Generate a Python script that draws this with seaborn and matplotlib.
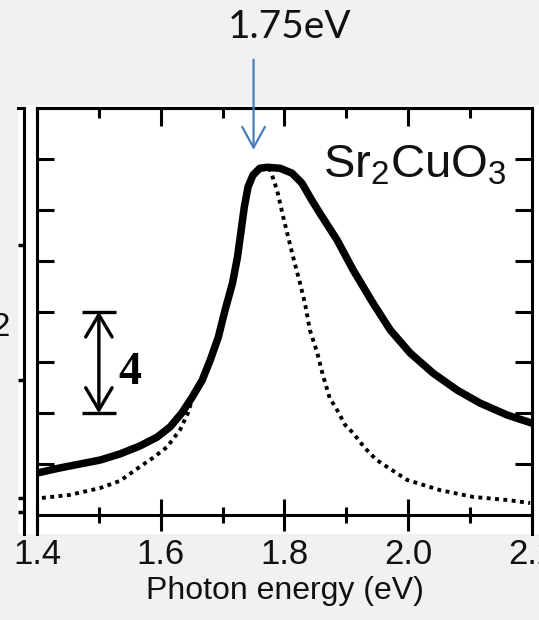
import numpy as np
import pandas as pd
import matplotlib
matplotlib.use("Agg")
import matplotlib.pyplot as plt
from matplotlib.patches import Rectangle
import seaborn as sns

# ---- data -------------------------------------------------------------
# measured epsilon_2 spectrum (thick solid line)
solid_energy = [1.400, 1.437, 1.502, 1.534, 1.566, 1.594, 1.615, 1.634, 1.651,
                1.667, 1.680, 1.693, 1.704, 1.716, 1.724, 1.730, 1.735, 1.741,
                1.749, 1.760, 1.772, 1.793, 1.812, 1.828, 1.844, 1.857, 1.885,
                1.911, 1.943, 1.971, 2.003, 2.040, 2.079, 2.116, 2.160, 2.200]
solid_eps2 = [1.65, 1.85, 2.16, 2.40, 2.71, 3.06, 3.46, 4.01, 4.64,
              5.30, 6.09, 6.99, 8.06, 9.12, 10.14, 11.20, 12.10, 12.89,
              13.36, 13.63, 13.67, 13.63, 13.44, 13.05, 12.38, 11.87, 10.81,
              9.63, 8.33, 7.27, 6.37, 5.58, 4.91, 4.40, 3.93, 3.61]

# single-peak fit (dotted line)
dotted_energy = [1.408, 1.453, 1.502, 1.534, 1.566, 1.587, 1.610, 1.631, 1.644,
                 1.651, 1.667, 1.680, 1.693, 1.704, 1.716, 1.724, 1.730, 1.735,
                 1.741, 1.749, 1.760, 1.772, 1.777, 1.788, 1.798, 1.806, 1.814,
                 1.825, 1.833, 1.841, 1.853, 1.862, 1.873, 1.885, 1.898, 1.911,
                 1.930, 1.949, 1.998, 2.051, 2.105, 2.160, 2.197]
dotted_eps2 = [0.67, 0.79, 1.06, 1.34, 1.89, 2.24, 2.67, 3.34, 4.01,
               4.56, 5.23, 6.01, 6.92, 7.98, 9.04, 10.06, 11.12, 12.02,
               12.81, 13.28, 13.56, 13.63, 13.56, 12.77, 11.71, 10.92, 10.14,
               9.12, 8.33, 7.27, 6.37, 5.50, 4.60, 4.13, 3.54, 3.22,
               2.63, 2.16, 1.38, 0.98, 0.71, 0.59, 0.47]

x_major = [1.4, 1.6, 1.8, 2.0, 2.2]
x_minor = [1.5, 1.7, 1.9, 2.1]
x_labels = ["1.4", "1.6", "1.8", "2.0", "2.2"]
y_ticks = [2, 4, 6, 8, 10, 12, 14]

peak_energy = 1.75          # eV, marked with the blue arrow
peak_label = "1.75eV"
scale_bar_x = 1.50
scale_bar_bottom = 4.0
scale_bar_length = 4        # units of epsilon_2
neighbor_ticks = [0.12, 0.67, 5.30, 10.61]

solid_df = pd.DataFrame({"energy": solid_energy, "eps2": solid_eps2})
dotted_df = pd.DataFrame({"energy": dotted_energy, "eps2": dotted_eps2})

# ---- style ------------------------------------------------------------
sns.set_theme(style="white")
plt.rcParams["font.family"] = ["Liberation Sans", "DejaVu Sans"]
plt.rcParams["mathtext.fontset"] = "custom"
plt.rcParams["mathtext.rm"] = "Liberation Sans"
plt.rcParams["mathtext.it"] = "Liberation Sans:italic"
plt.rcParams["mathtext.bf"] = "Liberation Sans:bold"
plt.rcParams["mathtext.default"] = "regular"

W, H = 539, 620
bg = "#f1f1f1"
fig = plt.figure(figsize=(W / 100, H / 100), dpi=100, facecolor=bg)

# white panel behind the plot
fig.patches.append(Rectangle((18 / W, 1 - 534 / H), 1 - 18 / W, (534 - 105) / H,
                             transform=fig.transFigure, facecolor="white",
                             edgecolor="none", zorder=-5))

# edge of the neighbouring panel on the left
axn = fig.add_axes([18 / W, 1 - 515 / H, 6 / W, 407 / H])
axn.set_facecolor("none")
axn.set_xlim(0, 1)
axn.set_ylim(0, 16)
for s in ("left", "bottom"):
    axn.spines[s].set_visible(False)
for s in ("top", "right"):
    axn.spines[s].set_linewidth(2.2)
    axn.spines[s].set_color("black")
axn.spines["right"].set_bounds(-0.75, 16)
axn.set_xticks([])
axn.yaxis.tick_right()
axn.set_yticks(neighbor_ticks)
axn.tick_params(axis="y", direction="in", length=4.5, width=2.5, color="black",
                labelright=False, labelleft=False, left=False, right=True)

# main panel
ax = fig.add_axes([37 / W, 1 - 515 / H, 495 / W, 407 / H])
ax.set_facecolor("white")

sns.lineplot(data=solid_df, x="energy", y="eps2", ax=ax, color="black",
             lw=5.4, estimator=None, sort=False, solid_capstyle="round",
             solid_joinstyle="round", zorder=4)
sns.lineplot(data=dotted_df, x="energy", y="eps2", ax=ax, color="black",
             lw=2.8, estimator=None, sort=False, zorder=3)
ax.lines[1].set_dashes((1.0, 1.15))

ax.set_xlim(1.4, 2.2)
ax.set_ylim(0, 16)

for s in ax.spines.values():
    s.set_linewidth(2.2)
    s.set_color("black")
ax.spines["left"].set_bounds(-0.75, 16)
ax.spines["right"].set_bounds(-0.75, 16)

ax.set_xticks(x_major)
ax.set_xticklabels(x_labels)
ax.set_xticks(x_minor, minor=True)
ax.tick_params(axis="x", which="major", direction="inout", length=23, width=2.2,
               color="black", bottom=True, top=False, pad=5, labelsize=25,
               labelcolor="#111111")
ax.tick_params(axis="x", which="minor", direction="inout", length=11, width=2.2,
               color="black", bottom=True, top=False)
ax.set_yticks(y_ticks)
ax.tick_params(axis="y", direction="in", length=12, width=2.2, color="black",
               left=True, right=True, labelleft=False, labelright=False)

top = ax.secondary_xaxis("top")
top.set_xticks(x_major)
top.set_xticks(x_minor, minor=True)
top.tick_params(axis="x", which="major", direction="in", length=13, width=2.2,
                color="black", labeltop=False)
top.tick_params(axis="x", which="minor", direction="in", length=7, width=2.2,
                color="black")
top.spines["top"].set_linewidth(2.2)

ax.set_xlabel("Photon energy (eV)", fontsize=23, color="#111111", labelpad=4)
ax.set_ylabel("")

# partially visible epsilon_2 axis label
ax.text(-0.0535, 0.456, r"$\varepsilon_2$", transform=ax.transAxes,
        fontsize=34, ha="right", va="baseline", color="#111111", clip_on=False)

# compound label
ax.text(1.862, 13.28, r"Sr$_2$CuO$_3$", fontsize=34, ha="left", va="baseline",
        color="#111111")

# scale bar
half_cap = 0.027
ax.hlines([scale_bar_bottom, scale_bar_bottom + scale_bar_length],
          scale_bar_x - half_cap, scale_bar_x + half_cap,
          color="black", lw=2.4, zorder=5)
ax.annotate("", xy=(scale_bar_x, scale_bar_bottom + scale_bar_length),
            xytext=(scale_bar_x, scale_bar_bottom),
            arrowprops=dict(arrowstyle="<->,head_length=1.6,head_width=0.95",
                            mutation_scale=10, lw=2.4, color="black",
                            shrinkA=0, shrinkB=0), zorder=5)
ax.text(scale_bar_x + 0.032, scale_bar_bottom + scale_bar_length / 2 - 0.4,
        str(scale_bar_length), fontsize=33, fontweight="bold",
        family=["Liberation Serif", "DejaVu Serif"], ha="left", va="center",
        color="black")

# peak marker
ax.annotate("", xy=(peak_energy, 14.35), xytext=(peak_energy, 17.9),
            arrowprops=dict(arrowstyle="->,head_length=1.5,head_width=0.82",
                            mutation_scale=10, lw=1.6, color="#4a7ebb",
                            shrinkA=0, shrinkB=0),
            annotation_clip=False)
ax.text(1.809, 18.75, peak_label, fontsize=28, ha="center", va="baseline",
        family=["Lato", "DejaVu Sans"], color="#111111", clip_on=False)

fig.savefig("out.png", dpi=100, facecolor=bg)
